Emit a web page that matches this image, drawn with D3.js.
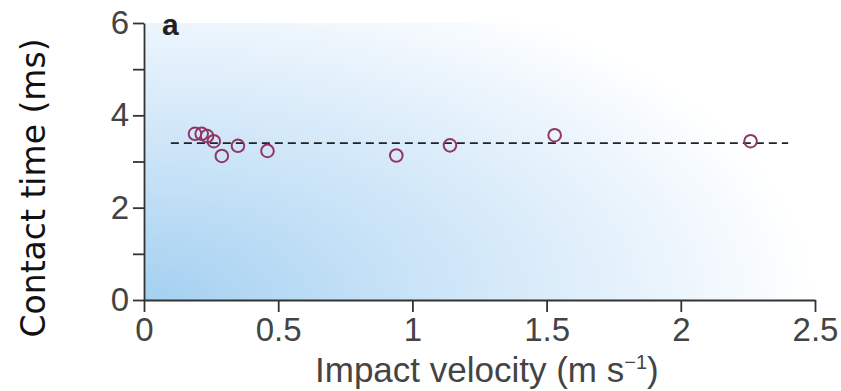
<!DOCTYPE html>
<html>
<head>
<meta charset="utf-8">
<script src="https://cdn.jsdelivr.net/npm/d3@7"></script>
<style>
  body { margin: 0; background: #fff; }
  svg { display: block; }
</style>
</head>
<body>
<svg id="chart" width="841" height="391"></svg>
<script>
// data
var velocity = [0.19, 0.215, 0.235, 0.26, 0.29, 0.35, 0.46, 0.94, 1.14, 1.53, 2.26];
var contactTime = [3.60, 3.60, 3.55, 3.44, 3.12, 3.34, 3.23, 3.13, 3.35, 3.57, 3.44];
var meanLine = [0.1, 2.4];   // x extent of the dashed fit
var meanValue = 3.40;
var xTicks = [0, 0.5, 1, 1.5, 2, 2.5];
var yTicks = [0, 1, 2, 3, 4, 5, 6];
var yLabels = [0, 2, 4, 6];

var svg = d3.select("#chart"),
    plotLeft = 144, plotRight = 815,  // plot box
    plotTop = 23, plotBottom = 300;

var x = d3.scaleLinear().domain([0, 2.5]).range([plotLeft, plotRight]);
var y = d3.scaleLinear().domain([0, 6]).range([plotBottom, plotTop]);

// soft blue glow from the lower left corner
var grad = svg.append("defs").append("radialGradient")
    .attr("id", "bg")
    .attr("cx", 0).attr("cy", 1).attr("r", 1)
    .attr("fx", 0).attr("fy", 1)
    .attr("gradientTransform", "translate(0,1) scale(1,1.25) translate(0,-1)");
grad.append("stop").attr("offset", "0%").attr("stop-color", "#a4d0f1");
grad.append("stop").attr("offset", "40%").attr("stop-color", "#c9e3f7");
grad.append("stop").attr("offset", "75%").attr("stop-color", "#e8f3fc");
grad.append("stop").attr("offset", "100%").attr("stop-color", "#ffffff");

svg.append("rect")
    .attr("x", plotLeft).attr("y", plotTop)
    .attr("width", plotRight - plotLeft).attr("height", plotBottom - plotTop)
    .attr("fill", "url(#bg)");

// dashed mean line
svg.append("line")
    .attr("x1", x(meanLine[0])).attr("x2", x(meanLine[1]))
    .attr("y1", y(meanValue)).attr("y2", y(meanValue))
    .attr("stroke", "#222")
    .attr("stroke-width", 1.8)
    .attr("stroke-dasharray", "8,5");

// points
svg.append("g").selectAll("circle")
    .data(velocity)
    .enter().append("circle")
    .attr("cx", function(d) { return x(d); })
    .attr("cy", function(d, i) { return y(contactTime[i]); })
    .attr("r", 6.3)
    .attr("fill", "none")
    .attr("stroke", "#913566")
    .attr("stroke-width", 2);

// axes
var yAxis = svg.append("g")
    .attr("transform", "translate(" + plotLeft + ",0)")
    .call(d3.axisLeft(y).tickValues(yTicks).tickSize(11).tickSizeOuter(0).tickPadding(4)
      .tickFormat(function(d) { return yLabels.indexOf(d) >= 0 ? d : ""; }));

var xAxis = svg.append("g")
    .attr("transform", "translate(0," + plotBottom + ")")
    .call(d3.axisBottom(x).tickValues(xTicks).tickSize(12).tickSizeOuter(0).tickPadding(6)
      .tickFormat(function(d) { return d; }));

[yAxis, xAxis].forEach(function(g) {
  g.selectAll("path, line").attr("stroke", "#333").attr("stroke-width", 1.8);
  g.selectAll("text")
    .attr("fill", "#444")
    .style("font-family", "'Liberation Sans', Arial, sans-serif")
    .style("font-size", "33px");
});

// panel letter
svg.append("text")
    .attr("x", 162).attr("y", 35)
    .style("font-family", "'Liberation Sans', Arial, sans-serif")
    .style("font-size", "30px")
    .style("font-weight", "700")
    .attr("fill", "#222")
    .text("a");

// x axis title
var xt = svg.append("text")
    .attr("x", 315).attr("y", 382)
    .attr("fill", "#444")
    .style("font-family", "'Liberation Sans', Arial, sans-serif")
    .style("font-size", "35px");
xt.append("tspan").text("Impact velocity (m s");
xt.append("tspan").attr("dy", -13).style("font-size", "20px").text("\u22121");
xt.append("tspan").attr("dy", 13).text(")");

// y axis title
svg.append("text")
    .attr("transform", "translate(45," + 188 + ") rotate(-90)")
    .style("text-anchor", "middle")
    .style("font-family", "'DejaVu Sans', Verdana, sans-serif")
    .style("font-size", "33px")
    .attr("fill", "#111")
    .text("Contact time (ms)");
</script>
</body>
</html>
